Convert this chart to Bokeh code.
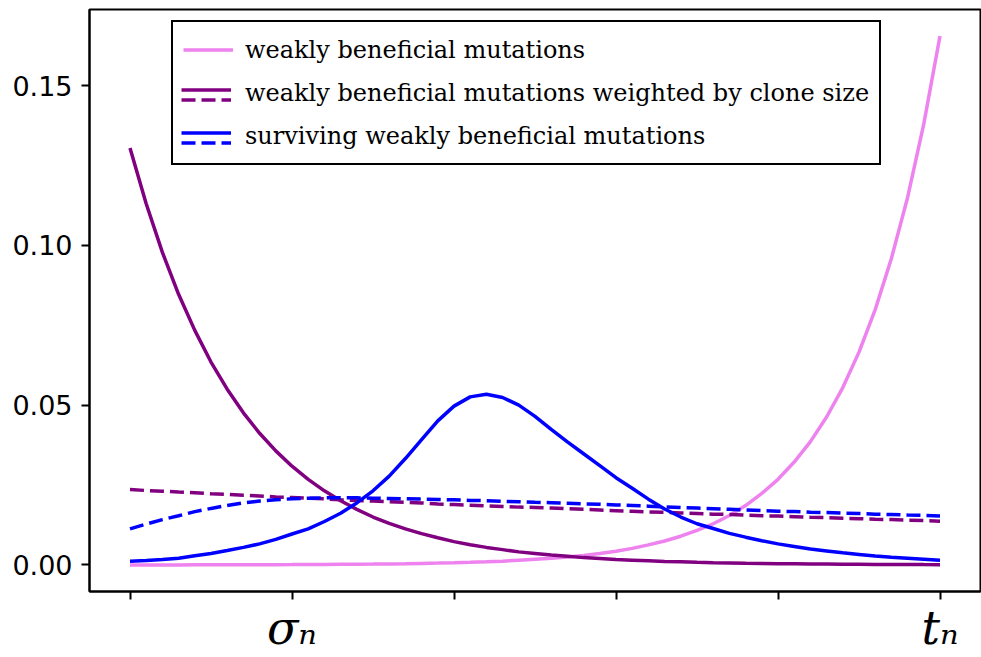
import numpy as np
from bokeh.plotting import figure
from bokeh.models import Range1d, FixedTicker, Legend, LegendItem
from bokeh.embed import file_html
from bokeh.resources import INLINE

# ---------------- data ----------------
x = np.linspace(0.0, 1.0, 51)

weakly = [0.00002, 0.00002, 0.00003, 0.00003, 0.00004, 0.00005, 0.00005, 0.00007, 0.00008, 0.00009,
          0.00011, 0.00014, 0.00016, 0.00020, 0.00023, 0.00028, 0.00034, 0.00040, 0.00049, 0.00058,
          0.0007, 0.00084, 0.0010, 0.0012, 0.0015, 0.0018, 0.0021, 0.0025, 0.0030, 0.0036,
          0.0043, 0.0052, 0.0063, 0.0075, 0.0090, 0.0108, 0.0129, 0.0155, 0.0186, 0.0224,
          0.0268, 0.0322, 0.0386, 0.0463, 0.0555, 0.0666, 0.0799, 0.0959, 0.1150, 0.1380,
          0.1655]

weighted = [0.1305, 0.1130, 0.0978, 0.0847, 0.0734, 0.0635, 0.0550, 0.0476, 0.0412, 0.0357,
            0.0309, 0.0268, 0.0232, 0.0201, 0.0174, 0.0150, 0.0130, 0.0113, 0.0098, 0.0085,
            0.0073, 0.0063, 0.0055, 0.0048, 0.0041, 0.0036, 0.0031, 0.0027, 0.0023, 0.0020,
            0.0017, 0.0015, 0.0013, 0.0011, 0.00098, 0.00085, 0.00073, 0.00064, 0.00055, 0.00048,
            0.00041, 0.00036, 0.00031, 0.00027, 0.00023, 0.00020, 0.00017, 0.00015, 0.00013, 0.00011,
            0.00010]

weighted_dashed = [0.0236, 0.0233, 0.0231, 0.0228, 0.0226, 0.0223, 0.0221, 0.0218, 0.0216, 0.0213,
                   0.0211, 0.0209, 0.0207, 0.0204, 0.0202, 0.0200, 0.0198, 0.0196, 0.0194, 0.0191,
                   0.0189, 0.0187, 0.0185, 0.0183, 0.0181, 0.0180, 0.0178, 0.0176, 0.0174, 0.0172,
                   0.0170, 0.0168, 0.0166, 0.0165, 0.0163, 0.0161, 0.0159, 0.0158, 0.0156, 0.0154,
                   0.0153, 0.0151, 0.0149, 0.0148, 0.0146, 0.0145, 0.0143, 0.0142, 0.0140, 0.0139,
                   0.0137]

surviving = [0.0012, 0.0014, 0.0017, 0.0021, 0.0029, 0.0036, 0.0045, 0.0055, 0.0066, 0.0080,
             0.0097, 0.0113, 0.0136, 0.0162, 0.0194, 0.0232, 0.0278, 0.0333, 0.0392, 0.0451,
             0.0497, 0.0526, 0.0534, 0.0524, 0.0500, 0.0465, 0.0424, 0.0385, 0.0348, 0.0311,
             0.0273, 0.0240, 0.0206, 0.0175, 0.0150, 0.0129, 0.0114, 0.0099, 0.0087, 0.0076,
             0.0066, 0.0058, 0.0050, 0.0044, 0.0038, 0.0033, 0.0028, 0.0024, 0.0021, 0.0018,
             0.0015]

surviving_dashed = [0.0113, 0.0128, 0.0142, 0.0154, 0.0167, 0.0177, 0.0186, 0.0194, 0.0200, 0.0204,
                    0.0207, 0.0209, 0.0210, 0.0210, 0.0210, 0.0209, 0.0208, 0.0207, 0.0206, 0.0205,
                    0.0204, 0.0202, 0.0201, 0.0199, 0.0198, 0.0196, 0.0195, 0.0193, 0.0191, 0.0190,
                    0.0188, 0.0186, 0.0184, 0.0182, 0.0180, 0.0178, 0.0176, 0.0174, 0.0172, 0.0170,
                    0.0168, 0.0167, 0.0165, 0.0164, 0.0162, 0.0161, 0.0159, 0.0158, 0.0156, 0.0155,
                    0.0153]

x_ticks = [0, 0.2, 0.4, 0.6, 0.8, 1]
x_tick_labels = ["", "σₙ", "", "", "", "tₙ"]
y_ticks = [0, 0.05, 0.1, 0.15]
y_tick_labels = ["0.00", "0.05", "0.10", "0.15"]

labels = ["weakly beneficial mutations",
          "weakly beneficial mutations weighted by clone size",
          "surviving weakly beneficial mutations"]

PINK = "#EE82EE"
PURPLE = "#800080"
BLUE = "#0000FF"
DASH = "14 6"
LW = 3.5

# ---------------- figure ----------------
p = figure(width=981, height=657, output_backend="svg", toolbar_location=None,
           x_range=Range1d(-0.05, 1.05), y_range=Range1d(-0.0083, 0.1738),
           min_border_left=89, min_border_right=1, min_border_top=9, min_border_bottom=66)
p.xgrid.visible = False
p.ygrid.visible = False
p.background_fill_color = "white"
p.border_fill_color = "white"
p.outline_line_color = "black"
p.outline_line_width = 2
p.outline_line_alpha = 1

r_pink = p.line(x, weakly, line_color=PINK, line_width=LW)
r_pur = p.line(x, weighted, line_color=PURPLE, line_width=LW)
r_pur_d = p.line(x, weighted_dashed, line_color=PURPLE, line_width=LW, line_dash=DASH)
r_blue = p.line(x, surviving, line_color=BLUE, line_width=LW)
r_blue_d = p.line(x, surviving_dashed, line_color=BLUE, line_width=LW, line_dash=DASH)
# empty renderer used as a blank legend glyph (white on white)
r_none = p.line([], [], line_color="white", line_width=1)

for ax in (p.xaxis[0], p.yaxis[0]):
    ax.axis_line_width = 2
    ax.axis_line_color = "black"
    ax.major_tick_line_width = 2
    ax.major_tick_line_color = "black"
    ax.major_tick_out = 8
    ax.major_tick_in = 0
    ax.minor_tick_line_color = None

p.xaxis.ticker = FixedTicker(ticks=x_ticks)
p.xaxis.major_label_overrides = dict(zip(x_ticks, x_tick_labels))
p.xaxis.major_label_text_font = "DejaVu Serif"
p.xaxis.major_label_text_font_style = "italic"
p.xaxis.major_label_text_font_size = "46px"
p.xaxis.major_label_text_color = "black"
p.xaxis.major_label_standoff = 1

p.yaxis.ticker = FixedTicker(ticks=y_ticks)
p.yaxis.major_label_overrides = dict(zip(y_ticks, y_tick_labels))
p.yaxis.major_label_text_font = "DejaVu Sans"
p.yaxis.major_label_text_font_size = "27px"
p.yaxis.major_label_text_color = "black"
p.yaxis.major_label_standoff = 9

# ---------------- legend ----------------
leg_style = dict(label_text_font="DejaVu Serif", label_text_font_size="24px",
                 label_text_color="black", glyph_width=50, glyph_height=35,
                 label_height=35, label_standoff=12, spacing=8, padding=10,
                 margin=0, orientation="vertical")
LX, LY = 82, 426

legend_main = Legend(items=[LegendItem(label=labels[0], renderers=[r_pink]),
                            LegendItem(label=labels[1], renderers=[r_none]),
                            LegendItem(label=labels[2], renderers=[r_none])],
                     location=(LX, LY), border_line_color="black", border_line_width=2,
                     border_line_alpha=1, background_fill_color="white",
                     background_fill_alpha=1, **leg_style)
legend_solid = Legend(items=[LegendItem(label=" ", renderers=[r_none]),
                             LegendItem(label=" ", renderers=[r_pur]),
                             LegendItem(label=" ", renderers=[r_blue])],
                      location=(LX, LY + 5), border_line_alpha=0,
                      background_fill_alpha=0, **leg_style)
legend_dash = Legend(items=[LegendItem(label=" ", renderers=[r_none]),
                            LegendItem(label=" ", renderers=[r_pur_d]),
                            LegendItem(label=" ", renderers=[r_blue_d])],
                     location=(LX, LY - 5), border_line_alpha=0,
                     background_fill_alpha=0, **leg_style)
p.add_layout(legend_main)
p.add_layout(legend_solid)
p.add_layout(legend_dash)

open("out.html", "w").write(file_html(p, INLINE))
